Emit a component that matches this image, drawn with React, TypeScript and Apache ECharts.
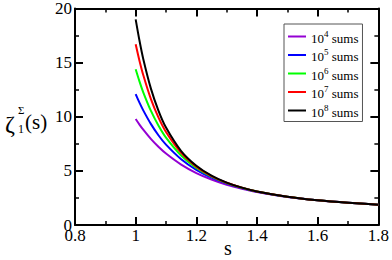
import React, { useEffect, useRef } from "react";
import * as echarts from "echarts";

const sValues = [1.0, 1.0125, 1.025, 1.05, 1.075, 1.1, 1.15, 1.2, 1.25, 1.3, 1.35, 1.4, 1.5, 1.6, 1.7, 1.8];
const sums1e4 = [9.79, 9.28, 8.81, 7.96, 7.23, 6.6, 5.58, 4.8, 4.2, 3.72, 3.35, 3.04, 2.59, 2.28, 2.05, 1.88];
const sums1e5 = [12.09, 11.3, 10.59, 9.34, 8.29, 7.42, 6.07, 5.09, 4.37, 3.83, 3.41, 3.08, 2.61, 2.28, 2.05, 1.88];
const sums1e6 = [14.39, 13.27, 12.26, 10.56, 9.19, 8.07, 6.42, 5.28, 4.47, 3.88, 3.44, 3.1, 2.61, 2.28, 2.05, 1.88];
const sums1e7 = [16.7, 15.18, 13.85, 11.65, 9.94, 8.59, 6.66, 5.39, 4.52, 3.9, 3.45, 3.1, 2.61, 2.28, 2.05, 1.88];
const sums1e8 = [19.0, 17.04, 15.34, 12.62, 10.57, 9.0, 6.83, 5.47, 4.55, 3.92, 3.45, 3.1, 2.61, 2.28, 2.05, 1.88];

const exponents = ["4", "5", "6", "7", "8"];
const seriesValues = [sums1e4, sums1e5, sums1e6, sums1e7, sums1e8];
const colors = ["#9400d3", "#0000ff", "#00ff00", "#ff0000", "#000000"];

const serif = "Liberation Serif";

function gtext(text: string, x: number, y: number, size: number, align = "left") {
  return {
    type: "text",
    x,
    y,
    style: { text, fontSize: size, fontFamily: serif, fill: "#000", align, verticalAlign: "middle" },
  };
}

export default function App() {
  const ref = useRef<HTMLDivElement>(null);
  useEffect(() => {
    document.body.style.margin = "0";
    const chart = echarts.init(ref.current!, undefined, { renderer: "svg" });
    const names = exponents.map((e) => "1e" + e + " sums");
    const axisCommon = {
      type: "value",
      axisLine: { show: true, onZero: false, lineStyle: { color: "#000", width: 2 } },
      axisTick: { show: true, inside: true, length: 8, lineStyle: { color: "#000", width: 2 } },
      minorTick: { show: true, splitNumber: 2, length: 4, lineStyle: { color: "#000", width: 1.5 } },
      splitLine: { show: false },
    };
    chart.setOption({
      animation: false,
      backgroundColor: "#fff",
      textStyle: { fontFamily: serif },
      grid: { left: 75, right: 12, top: 7, bottom: 35 },
      xAxis: [
        {
          ...axisCommon,
          position: "bottom",
          min: 0.8,
          max: 1.8,
          interval: 0.2,
          axisLabel: { color: "#000", fontFamily: serif, fontSize: 17, margin: 2 },
        },
        {
          ...axisCommon,
          position: "top",
          min: 0.8,
          max: 1.8,
          interval: 0.2,
          axisLabel: { show: false },
        },
      ],
      yAxis: [
        {
          ...axisCommon,
          position: "left",
          min: 0,
          max: 20,
          interval: 5,
          axisLabel: { color: "#000", fontFamily: serif, fontSize: 17, margin: 3 },
        },
        {
          ...axisCommon,
          position: "right",
          min: 0,
          max: 20,
          interval: 5,
          axisLabel: { show: false },
        },
      ],
      legend: {
        orient: "vertical",
        left: 284,
        top: 24,
        icon: "rect",
        itemWidth: 18,
        itemHeight: 2,
        itemGap: 3,
        padding: [5, 4, 3, 4],
        borderColor: "#555",
        borderWidth: 1,
        borderRadius: 0,
        data: names,
        formatter: (name: string) => {
          const e = name.slice(2, 3);
          return "{n|10}{sup|" + e + "}{n| sums}";
        },
        textStyle: {
          color: "#000",
          fontFamily: serif,
          fontSize: 13,
          rich: {
            n: { fontFamily: serif, fontSize: 13, color: "#000", padding: [3, 0, 0, 0] },
            sup: { fontFamily: serif, fontSize: 9, color: "#000", padding: [0, 0, 6, 0] },
          },
        },
      },
      series: names.map((n, i) => ({
        name: n,
        type: "line",
        showSymbol: false,
        symbol: "none",
        smooth: 0.3,
        color: colors[i],
        lineStyle: { color: colors[i], width: 2 },
        data: sValues.map((s, j) => [s, seriesValues[i][j]]),
      })),
      graphic: [
        gtext("ζ", 5, 124, 24),
        gtext("Σ", 18, 110, 11),
        gtext("1", 18, 129, 12),
        gtext("(s)", 25, 122, 21),
        gtext("s", 228, 248, 20, "center"),
      ],
    });
    return () => chart.dispose();
  }, []);
  return <div ref={ref} style={{ position: "fixed", left: 0, top: 0, width: 392, height: 260 }} />;
}
